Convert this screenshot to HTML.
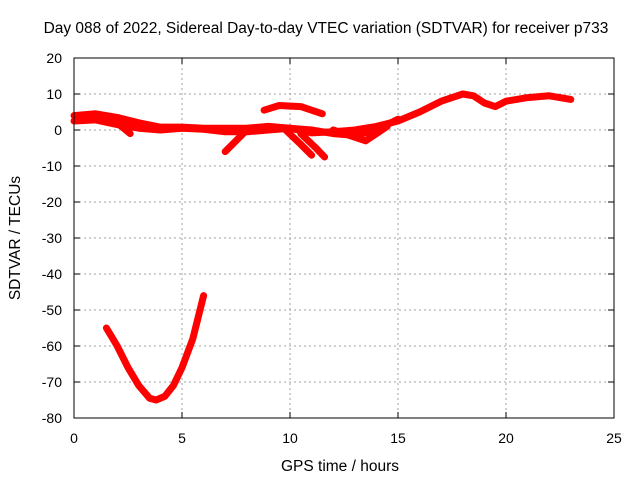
<!DOCTYPE html>
<html><head><meta charset="utf-8"><style>
body{margin:0;background:#fff}
svg{display:block;font-family:"Liberation Sans",sans-serif}
</style></head><body>
<svg id="chart" width="640" height="480">
<rect width="640" height="480" fill="#fff"/>
<text x="326" y="33" font-size="15.5" text-anchor="middle">Day 088 of 2022, Sidereal Day-to-day VTEC variation (SDTVAR) for receiver p733</text>
<text x="340" y="471" font-size="15.5" text-anchor="middle">GPS time / hours</text>
<text transform="translate(20,238) rotate(-90)" font-size="15.5" text-anchor="middle">SDTVAR / TECUs</text>
<g id="grid"></g><g id="series"></g>
<rect x="74" y="58" width="540" height="360" fill="none" stroke="#000" stroke-width="1"/>
</svg>
<script>
const xTicks=[0,5,10,15,20,25];
const yTicks=[20,10,0,-10,-20,-30,-40,-50,-60,-70,-80];
const mainBand=[[0,4],[1,4.5],[2,3.5],[3,2],[4,0.8],[5,0.8],[6,0.5],[7,0.5],[8,0.5],[9,1],[10,0.5],[11,-0.8],[12,-0.5],[13,0],[14,1],[15,2.5],[16,5],[17,8],[18,10],[18.5,9.5],[19,7.5],[19.5,6.5],[20,8],[21,9],[22,9.5],[23,8.5]];
const lowerBand=[[0,2.5],[1,2.8],[2,1.5],[3,0.5],[4,0],[5,0.5],[6,0.2],[7,-0.5],[8,-0.5],[9,0],[10,0.5],[11,0],[12,-1],[13,-1.5],[14,0],[15,3]];
const arc=[[8.8,5.5],[9.5,6.8],[10.5,6.5],[11.5,4.5]];
const drop1=[[7,-6],[7.5,-3],[8,0]];
const drop2=[[9.8,0],[10.5,-4],[11,-7]];
const drop3=[[10.5,-1],[11.2,-5],[11.6,-7.5]];
const dip=[[12,0],[13,-2],[13.5,-3],[14.5,1]];
const early=[[1.5,3.5],[2.2,1],[2.6,-1]];
const bigU=[[1.5,-55],[2,-60],[2.5,-66],[3,-71],[3.5,-74.5],[3.8,-75],[4.2,-74],[4.6,-71],[5,-66],[5.5,-58],[6,-46]];
const allSeries=[["main-band",mainBand],["lower-band",lowerBand],["arc-series",arc],["drop-series-1",drop1],["drop-series-2",drop2],["drop-series-3",drop3],["dip-series",dip],["early-series",early],["u-shaped-series",bigU]];
const X=v=>74+v*21.6, Y=v=>58+(20-v)*3.6;
const ns="http://www.w3.org/2000/svg";
const g=document.getElementById('grid'), s=document.getElementById('series');
function mk(t,a,p){const e=document.createElementNS(ns,t);for(const k in a)e.setAttribute(k,a[k]);p.appendChild(e);return e;}
xTicks.forEach(v=>{
 if(v>0&&v<25){const l=mk('line',{x1:X(v),x2:X(v),y1:58,y2:418,stroke:'#a0a0a0','stroke-dasharray':'2,3'},g);
 
 }
 mk('line',{x1:X(v),x2:X(v),y1:418,y2:412,stroke:'#000'},g);
 mk('line',{x1:X(v),x2:X(v),y1:58,y2:64,stroke:'#000'},g);
 const t=mk('text',{x:X(v),y:443,'font-size':14,'text-anchor':'middle'},g);t.textContent=v;
 
 
});
yTicks.forEach(v=>{
 if(v<20&&v>-80){const l=mk('line',{x1:74,x2:614,y1:Y(v),y2:Y(v),stroke:'#a0a0a0','stroke-dasharray':'2,3'},g);
 
 }
 mk('line',{x1:74,x2:80,y1:Y(v),y2:Y(v),stroke:'#000'},g);
 mk('line',{x1:608,x2:614,y1:Y(v),y2:Y(v),stroke:'#000'},g);
 const t=mk('text',{x:62,y:Y(v)+5,'font-size':14,'text-anchor':'end'},g);t.textContent=v;
 
 
});
allSeries.forEach(([name,d])=>{
 const p=mk('polyline',{points:d.map(q=>X(q[0])+','+Y(q[1])).join(' '),fill:'none',stroke:'#f00','stroke-width':7,'stroke-linejoin':'round','stroke-linecap':'round'},s);
 
 
});
</script>
</body></html>
